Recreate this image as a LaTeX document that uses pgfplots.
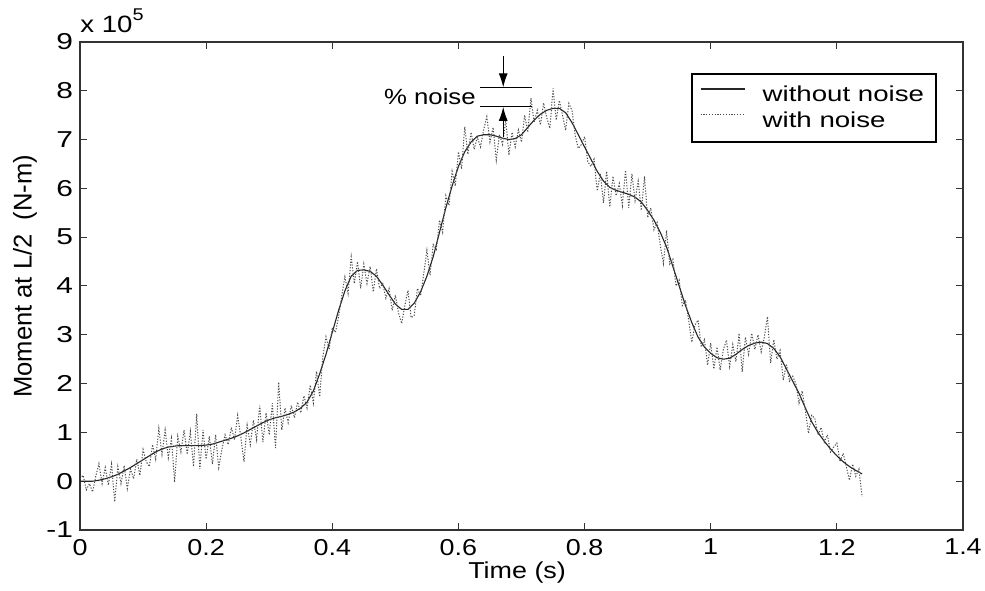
\documentclass[border=0pt]{standalone}
\usepackage{fontspec}
\setmainfont{Liberation Sans}
\newfontfamily\xtf[FakeStretch=1.17]{Liberation Sans}
\newfontfamily\ytf[FakeStretch=1.3]{Liberation Sans}
\newfontfamily\legfont[FakeStretch=1.28]{Liberation Sans}
\usepackage{pgfplots}
\usepackage{pgfplotstable}
\pgfplotsset{compat=1.18}
\usetikzlibrary{arrows.meta}

\pgfplotstableread{
x y
0.00 0.00
0.01 0.00
0.02 0.00
0.03 0.02
0.04 0.05
0.05 0.09
0.06 0.14
0.07 0.21
0.08 0.28
0.09 0.36
0.10 0.44
0.11 0.52
0.12 0.60
0.13 0.66
0.14 0.70
0.15 0.72
0.16 0.73
0.17 0.73
0.18 0.73
0.19 0.73
0.20 0.74
0.21 0.76
0.22 0.80
0.23 0.84
0.24 0.88
0.25 0.93
0.26 0.99
0.27 1.06
0.28 1.13
0.29 1.20
0.30 1.26
0.31 1.30
0.32 1.33
0.33 1.37
0.34 1.42
0.35 1.50
0.36 1.62
0.37 1.85
0.38 2.20
0.39 2.60
0.40 3.05
0.41 3.50
0.42 3.90
0.43 4.20
0.44 4.32
0.45 4.33
0.46 4.30
0.47 4.20
0.48 4.02
0.49 3.82
0.50 3.63
0.51 3.52
0.52 3.52
0.53 3.65
0.54 3.88
0.55 4.20
0.56 4.60
0.57 5.10
0.58 5.60
0.59 6.05
0.60 6.45
0.61 6.75
0.62 6.95
0.63 7.07
0.64 7.10
0.65 7.10
0.66 7.07
0.67 7.03
0.68 7.00
0.69 7.02
0.70 7.10
0.71 7.25
0.72 7.40
0.73 7.52
0.74 7.60
0.75 7.64
0.76 7.64
0.77 7.55
0.78 7.35
0.79 7.10
0.80 6.85
0.81 6.60
0.82 6.35
0.83 6.15
0.84 6.02
0.85 5.96
0.86 5.92
0.87 5.88
0.88 5.82
0.89 5.72
0.90 5.55
0.91 5.35
0.92 5.10
0.93 4.80
0.94 4.40
0.95 4.00
0.96 3.60
0.97 3.25
0.98 2.95
0.99 2.75
1.00 2.62
1.01 2.53
1.02 2.50
1.03 2.52
1.04 2.60
1.05 2.70
1.06 2.78
1.07 2.83
1.08 2.85
1.09 2.82
1.10 2.72
1.11 2.55
1.12 2.30
1.13 2.05
1.14 1.80
1.15 1.50
1.16 1.22
1.17 1.00
1.18 0.82
1.19 0.66
1.20 0.52
1.21 0.40
1.22 0.30
1.23 0.22
1.24 0.15
}\smoothdata

\pgfplotstableread{
x y
0.000 0.05
0.005 0.12
0.010 -0.18
0.015 -0.05
0.020 -0.22
0.025 0.10
0.030 0.36
0.035 -0.05
0.040 0.28
0.045 -0.08
0.050 0.35
0.055 -0.42
0.060 0.30
0.065 -0.05
0.070 0.32
0.075 -0.15
0.080 0.25
0.085 0.05
0.090 0.45
0.095 0.12
0.100 0.65
0.105 0.40
0.110 0.30
0.115 0.75
0.120 0.45
0.125 1.08
0.130 0.55
0.135 1.05
0.140 0.48
0.145 0.88
0.150 -0.02
0.155 0.92
0.160 0.60
0.165 1.05
0.170 0.55
0.175 1.02
0.180 0.30
0.185 1.38
0.190 0.25
0.195 1.05
0.200 0.45
0.205 0.92
0.210 0.35
0.215 0.95
0.220 0.28
0.225 0.65
0.230 0.95
0.235 0.75
0.240 1.10
0.245 0.85
0.250 1.35
0.255 0.90
0.260 0.40
0.265 1.15
0.270 0.75
0.275 1.25
0.280 0.85
0.285 1.55
0.290 0.80
0.295 1.40
0.300 0.95
0.305 1.60
0.310 0.68
0.315 2.03
0.320 1.05
0.325 1.50
0.330 1.20
0.335 1.55
0.340 1.30
0.345 1.62
0.350 1.40
0.355 1.75
0.360 1.50
0.365 1.97
0.370 1.60
0.375 2.25
0.380 1.73
0.385 2.55
0.390 2.96
0.395 2.70
0.400 3.15
0.405 3.05
0.410 3.37
0.415 3.80
0.420 4.19
0.425 3.85
0.430 4.60
0.435 4.05
0.440 4.50
0.445 3.95
0.450 4.45
0.455 4.05
0.460 4.40
0.465 3.88
0.470 4.35
0.475 3.95
0.480 4.05
0.485 3.75
0.490 3.95
0.495 3.50
0.500 3.81
0.505 3.45
0.510 3.23
0.515 3.60
0.520 3.91
0.525 3.35
0.530 3.40
0.535 3.95
0.540 3.80
0.545 4.25
0.550 4.73
0.555 4.22
0.560 4.85
0.565 4.75
0.570 5.35
0.575 5.10
0.580 5.85
0.585 5.65
0.590 6.35
0.595 6.05
0.600 6.75
0.605 6.40
0.610 7.26
0.615 6.70
0.620 7.15
0.625 6.80
0.630 7.05
0.635 6.85
0.640 7.20
0.645 7.47
0.650 6.95
0.655 7.25
0.660 6.58
0.665 7.10
0.670 6.90
0.675 7.40
0.680 6.68
0.685 7.15
0.690 6.85
0.695 7.20
0.700 6.95
0.705 7.50
0.710 7.15
0.715 7.85
0.720 7.35
0.725 7.60
0.730 7.30
0.735 7.75
0.740 7.45
0.745 7.23
0.750 8.05
0.755 7.40
0.760 7.80
0.765 7.50
0.770 7.19
0.775 7.74
0.780 7.60
0.785 7.10
0.790 6.82
0.795 6.90
0.800 7.06
0.805 6.55
0.810 6.45
0.815 6.60
0.820 5.95
0.825 6.30
0.830 5.70
0.835 6.35
0.840 5.62
0.845 6.25
0.850 5.85
0.855 6.10
0.860 5.65
0.865 6.37
0.870 5.60
0.875 6.30
0.880 5.75
0.885 6.15
0.890 5.55
0.895 6.25
0.900 5.40
0.905 5.60
0.910 5.15
0.915 5.30
0.920 4.84
0.925 4.46
0.930 5.14
0.935 4.45
0.940 4.55
0.945 4.00
0.950 4.12
0.955 3.60
0.960 3.71
0.965 3.30
0.970 2.85
0.975 3.20
0.980 3.30
0.985 2.75
0.990 2.90
0.995 2.38
1.000 2.83
1.005 2.30
1.010 2.75
1.015 2.28
1.020 2.70
1.025 2.89
1.030 2.35
1.035 2.80
1.040 2.45
1.045 3.03
1.050 2.24
1.055 2.95
1.060 2.60
1.065 3.03
1.070 2.70
1.075 3.00
1.080 2.65
1.085 2.95
1.090 3.37
1.095 2.42
1.100 2.90
1.105 2.50
1.110 2.68
1.115 2.07
1.120 2.40
1.125 2.05
1.130 2.15
1.135 2.00
1.140 1.60
1.145 1.85
1.150 1.45
1.155 0.98
1.160 1.35
1.165 1.29
1.170 0.95
1.175 1.10
1.180 0.80
1.185 0.95
1.190 0.60
1.195 0.70
1.200 0.78
1.205 0.40
1.210 0.57
1.215 0.30
1.220 0.02
1.225 0.35
1.230 0.10
1.235 0.25
1.240 -0.32
}\noisydata

\begin{document}
\begin{tikzpicture}
\begin{axis}[
  width=441.5pt, height=244pt, scale only axis,
  xmin=0, xmax=1.4, ymin=-1, ymax=9,
  xtick={0,0.2,0.4,0.6,0.8,1,1.2,1.4},
  xticklabels={0,0.2,0.4,0.6,0.8,1,1.2,1.4},
  ytick={-1,0,1,2,3,4,5,6,7,8,9},
  yticklabels={-1,0,1,2,3,4,5,6,7,8,9},
  scaled ticks=false,
  /pgf/number format/assume math mode=true,
  tick align=inside,
  xtick pos=both, ytick pos=both,
  xticklabel pos=left, yticklabel pos=left,
  axis line style={black!80, line width=0.55pt},
  every tick/.style={black!80, line width=0.5pt},
  major tick length=3.5pt,
  xticklabel style={font=\xtf\fontsize{11.5}{12}\selectfont, yshift=-1pt},
  yticklabel style={font=\ytf\fontsize{11.5}{12}\selectfont},
  xlabel={Time (s)},
  xlabel style={font=\xtf\fontsize{11.5}{12}\selectfont, at={(axis description cs:0.495,0)}, anchor=center, yshift=-21.5pt},
  ylabel={Moment at L/2\ \ (N-m)},
  ylabel style={font=\fontsize{12.8}{13}\selectfont, at={(axis description cs:0,0.52)}, anchor=center, yshift=27.5pt},
  legend style={at={(0.9705,0.936)}, anchor=north east, draw=black, line width=0.9pt,
    font=\legfont\fontsize{10.8}{11}\selectfont, inner xsep=4pt, inner ysep=4pt,
    nodes={inner ysep=1.8pt, inner xsep=2pt}},
  legend cell align=left,
  legend image code/.code={\draw[#1] (0pt,3pt) -- (22pt,3pt); \path[draw=none] (0pt,0pt) -- (29pt,0pt);},
]
\addplot[black!85, line width=0.55pt] table[x=x,y=y] {\smoothdata};
\addlegendentry{without noise}
\addplot[black!70, line width=0.5pt, dash pattern=on 0.6pt off 0.8pt] table[x=x,y=y] {\noisydata};
\addlegendentry{with noise}

\draw[black, line width=0.5pt] (axis cs:0.634,8.07) -- (axis cs:0.716,8.07);
\draw[black, line width=0.5pt] (axis cs:0.634,7.67) -- (axis cs:0.716,7.67);
\draw[black, line width=0.5pt, -{Latex[length=7pt,width=4.5pt]}] (axis cs:0.671,8.71) -- (axis cs:0.671,8.07);
\draw[black, line width=0.5pt, -{Latex[length=7pt,width=4.5pt]}] (axis cs:0.671,7.06) -- (axis cs:0.671,7.67);
\node[anchor=east, inner sep=0pt, font=\xtf\fontsize{11}{12}\selectfont] at (axis cs:0.628,7.89) {\% noise};
\coordinate (bl) at (rel axis cs:0,0);
\coordinate (tr) at (rel axis cs:1,1);
\end{axis}
\node[anchor=base west, inner sep=0pt, font=\xtf\fontsize{11.8}{12}\selectfont, yshift=4.5pt] at (bl|-tr) {x 10\raisebox{0.55em}{\fontsize{8.5}{9}\selectfont 5}};
\pgfresetboundingbox
\path[use as bounding box] (bl) ++(-40pt,-30pt) rectangle (tr) ++(11pt,21pt);
\end{tikzpicture}
\end{document}
